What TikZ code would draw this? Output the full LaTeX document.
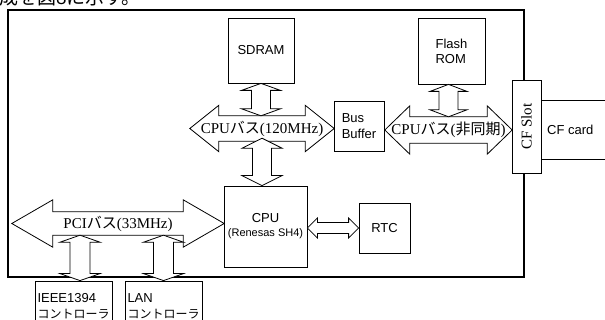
\documentclass[tikz,border=0pt]{standalone}
\usepackage{fontspec}
\setmainfont{Liberation Sans}
\newfontfamily\busfont{Liberation Serif}
\newfontfamily\jpfont{Noto Sans CJK JP}
\usetikzlibrary{calc}

\newcommand{\vlink}[5]{\filldraw[link] (#1) -- ($(#1)+(#4,#5)$) -- ($(#1)+(#3,#5)$) -- ($(#2)+(#3,-#5)$) -- ($(#2)+(#4,-#5)$) -- (#2) -- ($(#2)+(-#4,-#5)$) -- ($(#2)+(-#3,-#5)$) -- ($(#1)+(-#3,#5)$) -- ($(#1)+(-#4,#5)$) -- cycle;}
\newcommand{\hlink}[5]{\filldraw[link] (#1) -- ($(#1)+(#5,-#4)$) -- ($(#1)+(#5,-#3)$) -- ($(#2)+(-#5,-#3)$) -- ($(#2)+(-#5,-#4)$) -- (#2) -- ($(#2)+(-#5,#4)$) -- ($(#2)+(-#5,#3)$) -- ($(#1)+(#5,#3)$) -- ($(#1)+(#5,#4)$) -- cycle;}
\newcommand{\hbus}[3]{\draw[link, fill=none] (#1.west) -- ($(#1.north west)+(#3,-#2)$) -- ($(#1.north west)+(#3,0)$) -- ($(#1.north east)+(-#3,0)$) -- ($(#1.north east)+(-#3,-#2)$) -- (#1.east) -- ($(#1.south east)+(-#3,#2)$) -- ($(#1.south east)+(-#3,0)$) -- ($(#1.south west)+(#3,0)$) -- ($(#1.south west)+(#3,#2)$) -- cycle;}

\tikzset{
  box/.style={draw, line width=0.8pt, inner sep=0pt, font=\fontsize{13}{15}\selectfont},
  bus/.style={inner sep=0pt, font=\busfont\fontsize{15}{18}\selectfont},
  link/.style={draw, fill=white, line width=0.8pt, line join=miter},
}

\begin{document}
\begin{tikzpicture}[x=1pt,y=-1pt]
\useasboundingbox (0,0) rectangle (605,320);
\node[anchor=base west, inner sep=0pt, font=\jpfont\fontsize{19}{22}\selectfont] (caption) at (-1,5) {成を図8に示す。};
\draw[line width=1.2pt] (8,10) rectangle (524,277);

\node[box, minimum width=66, minimum height=65] (sdram) at (261,50.5) {SDRAM};
\node[box, minimum width=67, minimum height=66, align=left] (flash) at (451.5,51) {Flash\\ROM};
\node[box, minimum width=50, minimum height=50, align=left, font=\fontsize{13}{16}\selectfont] (buffer) at (359,126) {Bus\\Buffer};
\node[box, minimum width=83, minimum height=81, align=center] (cpu) at (265.5,226.5) {CPU\\[-1pt]\fontsize{11}{13}\selectfont(Renesas SH4)};
\node[box, minimum width=51, minimum height=50] (rtc) at (384.5,228) {RTC};
\node[box, fill=white, minimum width=93, minimum height=29, rotate=90, font=\busfont\fontsize{15}{18}\selectfont] (slot) at (526.5,126.5) {CF Slot};
\draw[line width=0.8pt] (slot.south |- 0,100) -- ++(75,0);
\draw[line width=0.8pt] (slot.south |- 0,159) -- ++(75,0);
\node[anchor=west, inner sep=0pt, font=\fontsize{13}{15}\selectfont] (card) at (547,130) {CF card};
\node[box, fill=white, minimum width=77, minimum height=50, align=left, font=\fontsize{13}{16}\selectfont] (ieee) at (73.5,306) {IEEE1394\\{\jpfont\fontsize{12}{16}\selectfont コントローラ}};
\node[box, fill=white, minimum width=77, minimum height=50, align=left, font=\fontsize{13}{16}\selectfont] (lan) at (163.5,306) {LAN\\{\jpfont\fontsize{12}{16}\selectfont コントローラ}};

\node[bus, minimum width=144, minimum height=25] (cpubus) at (262,128.5) {CPU{\jpfont バス}(120MHz)};
\hbus{cpubus}{10.5}{29}
\node[bus, minimum width=127, minimum height=26] (asyncbus) at (448.5,130) {CPU{\jpfont バス}({\jpfont 非同期})};
\hbus{asyncbus}{11}{25}
\node[bus, minimum width=212, minimum height=23] (pcibus) at (118,223.5) {PCI{\jpfont バス}(33MHz)};
\hbus{pcibus}{12}{41}

\coordinate (sd1) at (sdram.south);
\coordinate (sd2) at (sdram.south |- cpubus.north);
\vlink{sd1}{sd2}{9.5}{19.5}{7}
\coordinate (cp1) at ([yshift=3pt]cpubus.south);
\coordinate (cp2) at (cpubus.south |- cpu.north);
\vlink{cp1}{cp2}{9.5}{20}{10}
\coordinate (fl1) at (asyncbus.north |- flash.south);
\coordinate (fl2) at (asyncbus.north);
\vlink{fl1}{fl2}{9.5}{18.5}{7}
\coordinate (ie2) at ([xshift=6.5pt]ieee.north);
\coordinate (ie1) at (ie2 |- pcibus.south);
\vlink{ie1}{ie2}{10}{20}{7}
\coordinate (la2) at (lan.north);
\coordinate (la1) at (la2 |- pcibus.south);
\vlink{la1}{la2}{10}{20}{7}
\coordinate (rt1) at (cpu.east |- rtc.west);
\hlink{rt1}{rtc.west}{5.5}{10}{10}
\end{tikzpicture}
\end{document}
